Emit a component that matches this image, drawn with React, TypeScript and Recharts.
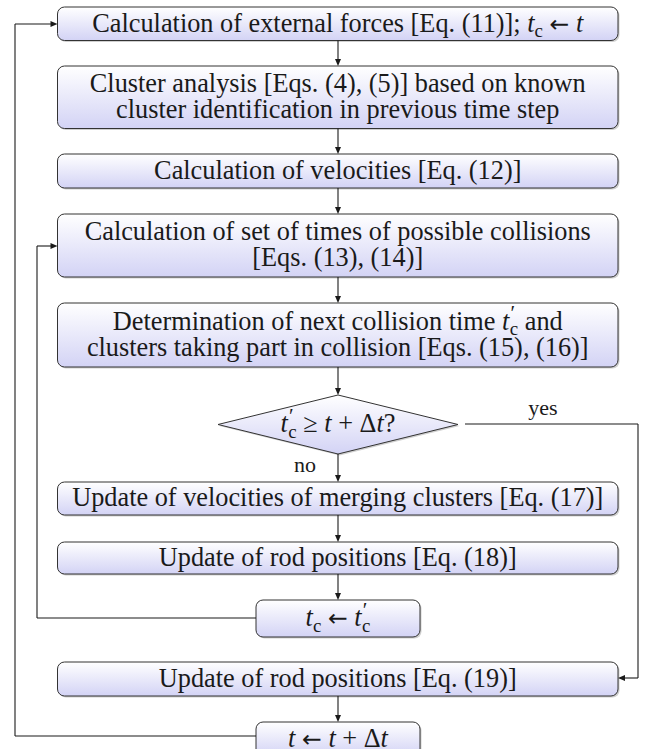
import React from 'react';
import { ComposedChart, XAxis, YAxis, ReferenceArea, ReferenceLine } from 'recharts';

// flowchart steps, top to bottom ("|" = line break, *x* italic, _{} sub, ^{} sup)
const steps = [
  'Calculation of external forces [Eq. (11)]; *t*_{c} ← *t*',
  'Cluster analysis [Eqs. (4), (5)] based on known|cluster identification in previous time step',
  'Calculation of velocities [Eq. (12)]',
  'Calculation of set of times of possible collisions|[Eqs. (13), (14)]',
  'Determination of next collision time *t*^{′}_{c} and|clusters taking part in collision [Eqs. (15), (16)]',
  '*t*^{′}_{c} ≥ *t* + Δ*t*?',
  'Update of velocities of merging clusters [Eq. (17)]',
  'Update of rod positions [Eq. (18)]',
  '*t*_{c} ← *t*^{′}_{c}',
  'Update of rod positions [Eq. (19)]',
  '*t* ← *t* + Δ*t*',
];
const branchLabels = ['yes', 'no'];

// layout in chart units (x: 0..646, y: 0..749 top-down)
const nodeTop = [7, 66, 154, 214, 303, 395, 482, 542, 600, 662, 722];
const nodeBottom = [40.5, 128.5, 188, 277, 367, 454, 515, 574, 637, 696, 756];
const nodeLeft = [57.5, 57.5, 57.5, 57.5, 57.5, 218, 57.5, 57.5, 256, 57.5, 256];
const nodeRight = [618, 618, 618, 618, 618, 458, 618, 618, 420, 618, 420];
const DIAMOND = 5;
const CX = 338;

const links: { x: number; y: number }[][] = [
  ...[0, 1, 2, 3, 4, 5, 6, 7, 9].map((i) => [
    { x: CX, y: nodeBottom[i] },
    { x: CX, y: nodeTop[i + 1] },
  ]),
  // yes branch
  [{ x: 465, y: 424 }, { x: 638, y: 424 }, { x: 638, y: 678 }, { x: 618, y: 678 }],
  // inner loop
  [{ x: 256, y: 618 }, { x: 37, y: 618 }, { x: 37, y: 246 }, { x: 57.5, y: 246 }],
  // outer loop
  [{ x: 256, y: 736 }, { x: 15, y: 736 }, { x: 15, y: 24 }, { x: 57.5, y: 24 }],
];

const FS = 26.3;
const FONT = '"Liberation Serif", "Times New Roman", serif';
const INK = '#1a1a1a';

function rich(str: string, fs: number) {
  const parts = str.split(/(\*[^*]+\*|_\{[^}]+\}|\^\{[^}]+\}|←)/).filter(Boolean);
  let off = 0;
  let prevSup = false;
  return parts.map((p, i) => {
    let txt = p;
    let style = 'normal';
    let target = 0;
    let size = fs;
    let dx = 0;
    let family: string | undefined;
    if (p === '←') {
      family = '"DejaVu Sans", sans-serif';
      size = 0.9 * fs;
    } else if (p.startsWith('*')) {
      txt = p.slice(1, -1);
      style = 'italic';
    } else if (p.startsWith('_{')) {
      txt = p.slice(2, -1);
      target = 0.2 * fs;
      size = 0.72 * fs;
      if (prevSup) dx = -0.2 * fs;
    } else if (p.startsWith('^{')) {
      txt = p.slice(2, -1);
      target = -0.36 * fs;
      size = 0.8 * fs;
      dx = 0.04 * fs;
    }
    const dy = target - off;
    off = target;
    prevSup = p.startsWith('^{');
    return (
      <tspan key={i} dy={dy} dx={dx || undefined} fontStyle={style} fontSize={size} fontFamily={family}>
        {txt}
      </tspan>
    );
  });
}

function nodeShape(idx: number) {
  return (props: any) => {
    const { x, y, width, height } = props;
    const lines = steps[idx].split('|');
    const cy = y + height / 2;
    const lh = 26;
    let body;
    if (idx === DIAMOND) {
      const pts = `${x},${cy} ${x + width / 2},${y} ${x + width},${cy} ${x + width / 2},${y + height}`;
      const sh = `${x + 1.5},${cy + 1.5} ${x + width / 2 + 1.5},${y + 1.5} ${x + width + 1.5},${cy + 1.5} ${x + width / 2 + 1.5},${y + height + 1.5}`;
      body = (
        <>
          <polygon points={sh} fill="#888" opacity={0.4} strokeLinejoin="round" />
          <polygon points={pts} fill="url(#boxGrad)" stroke="#333" strokeWidth={1} strokeLinejoin="round" />
        </>
      );
    } else {
      body = (
        <>
          <rect x={x + 1.5} y={y + 1.5} width={width} height={height} rx={7} fill="#888" opacity={0.4} />
          <rect x={x} y={y} width={width} height={height} rx={7} fill="url(#boxGrad)" stroke="#333" strokeWidth={1} />
        </>
      );
    }
    return (
      <g>
        {body}
        {lines.map((ln, k) => (
          <text
            key={k}
            x={x + width / 2}
            y={cy + 0.3 * FS + (k - (lines.length - 1) / 2) * lh}
            textAnchor="middle"
            fontFamily={FONT}
            fontSize={FS}
            fill={INK}
          >
            {rich(ln, FS)}
          </text>
        ))}
      </g>
    );
  };
}

function segShape(arrow: boolean) {
  return (props: any) => {
    const { x1, y1, x2, y2 } = props;
    const ang = Math.atan2(y2 - y1, x2 - x1);
    const L = 7;
    const w = 3;
    const bx = x2 - L * Math.cos(ang);
    const by = y2 - L * Math.sin(ang);
    const px = -Math.sin(ang) * w;
    const py = Math.cos(ang) * w;
    return (
      <g>
        <line x1={x1} y1={y1} x2={arrow ? bx + 1 * Math.cos(ang) : x2} y2={arrow ? by + 1 * Math.sin(ang) : y2} stroke={INK} strokeWidth={1.1} />
        {arrow && <polygon points={`${x2},${y2} ${bx + px},${by + py} ${bx - px},${by - py}`} fill={INK} />}
      </g>
    );
  };
}

export default function App() {
  return (
    <div style={{ position: 'absolute', left: 0, top: 0, background: '#fff' }}>
      <ComposedChart width={646} height={749} margin={{ top: 0, right: 0, bottom: 0, left: 0 }} data={[]}>
        <defs>
          <linearGradient id="boxGrad" x1="0" y1="0" x2="0" y2="1">
            <stop offset="0%" stopColor="#ffffff" />
            <stop offset="100%" stopColor="#d3d3f5" />
          </linearGradient>
        </defs>
        <XAxis type="number" dataKey="x" domain={[0, 646]} allowDataOverflow hide />
        <YAxis type="number" dataKey="y" domain={[0, 749]} reversed allowDataOverflow hide />
        {links.map((pts, li) =>
          pts.slice(1).map((p, k) => (
            <ReferenceLine
              key={`l${li}-${k}`}
              segment={[pts[k], p]}
              ifOverflow="visible"
              shape={segShape(k === pts.length - 2)}
            />
          ))
        )}
        {steps.map((_, i) => (
          <ReferenceArea
            key={`n${i}`}
            x1={nodeLeft[i]}
            x2={nodeRight[i]}
            y1={nodeTop[i]}
            y2={nodeBottom[i]}
            ifOverflow="visible"
            shape={nodeShape(i)}
          />
        ))}
        <ReferenceLine
          segment={[{ x: 543, y: 415 }, { x: 543, y: 415 }]}
          ifOverflow="visible"
          shape={(p: any) => (
            <text x={p.x1} y={p.y1} textAnchor="middle" fontFamily={FONT} fontSize={22} fill={INK}>
              {branchLabels[0]}
            </text>
          )}
        />
        <ReferenceLine
          segment={[{ x: 305, y: 472 }, { x: 305, y: 472 }]}
          ifOverflow="visible"
          shape={(p: any) => (
            <text x={p.x1} y={p.y1} textAnchor="middle" fontFamily={FONT} fontSize={22} fill={INK}>
              {branchLabels[1]}
            </text>
          )}
        />
      </ComposedChart>
    </div>
  );
}
